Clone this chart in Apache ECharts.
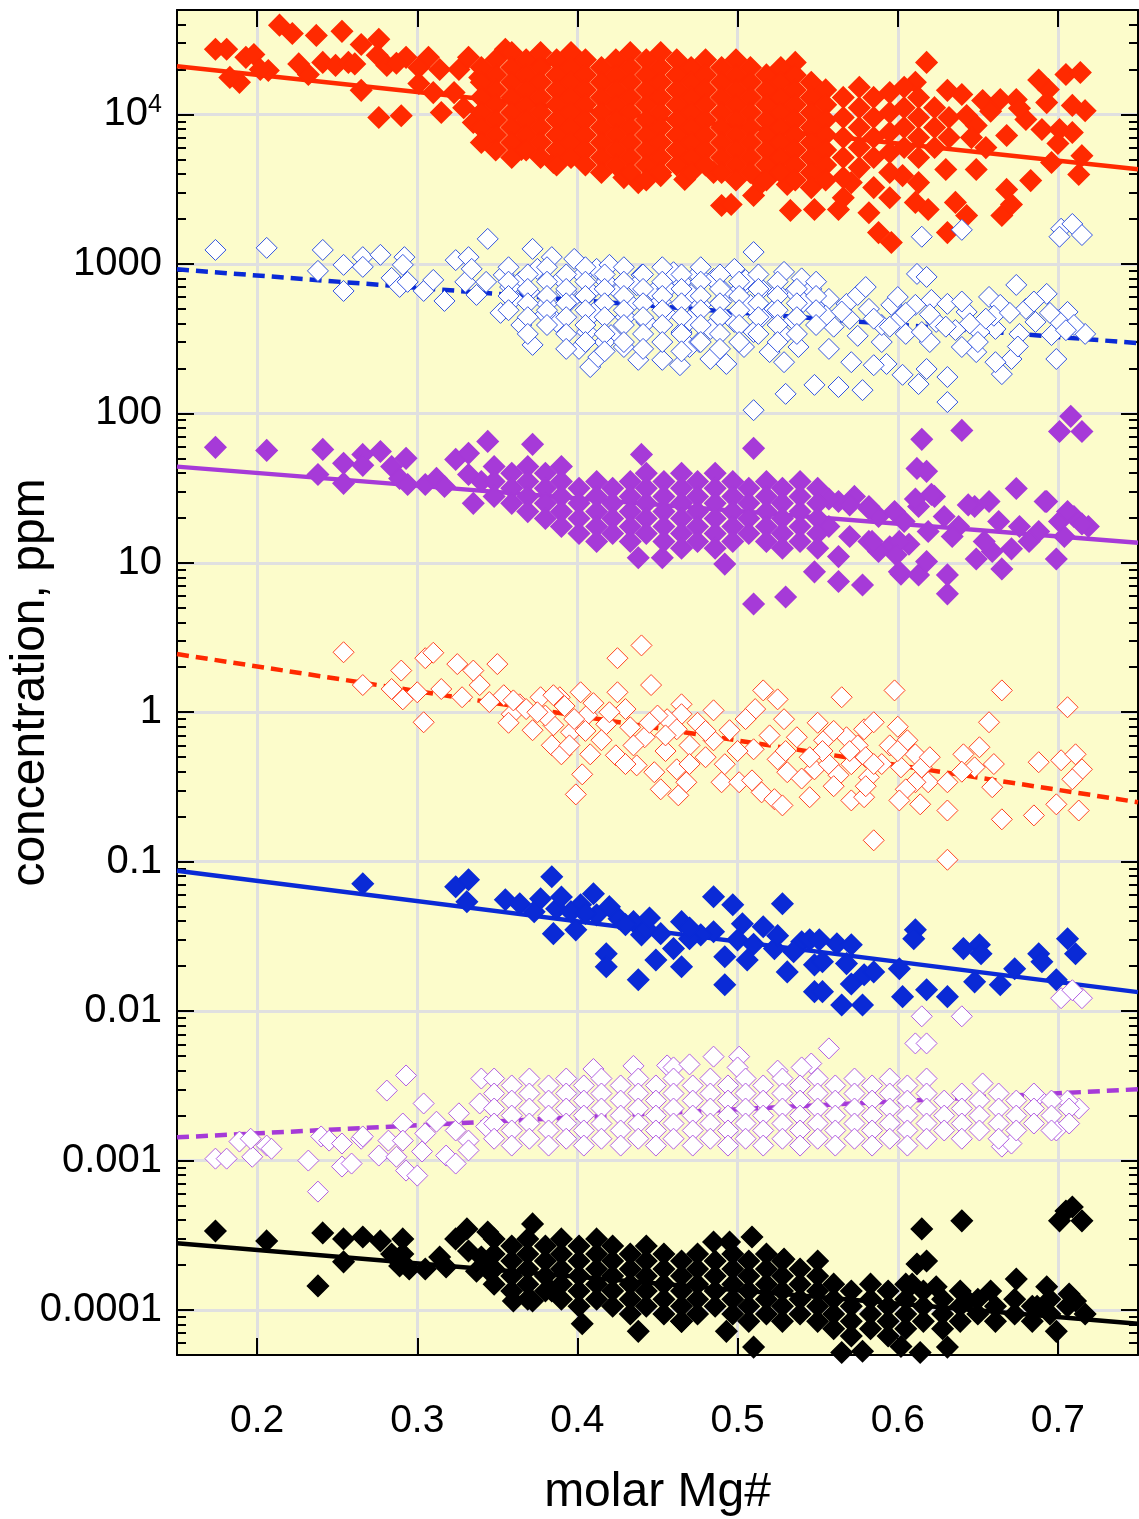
<!DOCTYPE html>
<html>
<head>
<meta charset="utf-8">
<script src="https://cdn.jsdelivr.net/npm/echarts@6/dist/echarts.min.js"></script>
<style>
html,body{margin:0;padding:0;background:#fff;}
#chart{width:1139px;height:1519px;}
</style>
</head>
<body>
<div id="chart"></div>
<script>
// axis ticks
var xTicks = [0.2, 0.3, 0.4, 0.5, 0.6, 0.7];
var yTicks = [1e-4, 1e-3, 1e-2, 1e-1, 1, 10, 100, 1000, 1e4];
var yTickLabels = ['0.0001', '0.001', '0.01', '0.1', '1', '10', '100', '1000', '{n|10}{s|4}'];
var yMinor = [6e-5, 7e-5, 8e-5, 9e-5,
  2e-4, 3e-4, 4e-4, 5e-4, 6e-4, 7e-4, 8e-4, 9e-4,
  2e-3, 3e-3, 4e-3, 5e-3, 6e-3, 7e-3, 8e-3, 9e-3,
  0.02, 0.03, 0.04, 0.05, 0.06, 0.07, 0.08, 0.09,
  0.2, 0.3, 0.4, 0.5, 0.6, 0.7, 0.8, 0.9,
  2, 3, 4, 5, 6, 7, 8, 9,
  20, 30, 40, 50, 60, 70, 80, 90,
  200, 300, 400, 500, 600, 700, 800, 900,
  2000, 3000, 4000, 5000, 6000, 7000, 8000, 9000,
  2e4, 3e4, 4e4];

// fit lines (end points)
var redFit = [[0.15, 21000], [0.75, 4300]];
var blueOpenFit = [[0.15, 920], [0.75, 295]];
var purpleFit = [[0.15, 44], [0.75, 13.6]];
var redOpenFit = [[0.15, 2.45], [0.75, 0.25]];
var blueFit = [[0.15, 0.087], [0.75, 0.0134]];
var purpleOpenFit = [[0.15, 0.00143], [0.75, 0.003]];
var blackFit = [[0.15, 2.8e-4], [0.75, 8.1e-5]];

// red filled diamonds: single points + dense columns [x, [y...]]
var redPts = [[0.174,27300],[0.181,27300],[0.193,24100],[0.198,25200],[0.189,16400],[0.207,19700],[0.214,39600],[0.222,34800],
  [0.237,33800],[0.253,36000],[0.265,29400],[0.276,31800],[0.232,18500],[0.241,22300],[0.249,21300],[0.257,22300],
  [0.265,14500],[0.276,9550],[0.29,9800],[0.281,21300],[0.293,24100],[0.307,24100],[0.315,10300],[0.335,8840],
  [0.183,17700],[0.202,20000],[0.226,21800],[0.261,21800],[0.275,24900],[0.287,22000],[0.301,20600],[0.314,20000],
  [0.326,20000],[0.332,24100],[0.339,17700],[0.323,14000],[0.329,11100],[0.345,13000],[0.301,16100],[0.31,14000],
  [0.355,27300],[0.377,21600],[0.395,24800],[0.536,22300],[0.533,17700],[0.490,2460],[0.496,2500],[0.510,2870],
  [0.533,2280],[0.548,2310],[0.438,3500],[0.429,3780],[0.452,3900],[0.467,3670],[0.485,4090],[0.515,3500],
  [0.531,3400],[0.365,5830],[0.385,4770],
  [0.618,22300],[0.611,16400],[0.631,14500],[0.640,13600],[0.653,12400],[0.664,12600],[0.674,12600],[0.694,14700],
  [0.705,18500],[0.714,19100],[0.717,10600],[0.709,11500],[0.693,12000],[0.680,9260],[0.690,7930],[0.701,7930],
  [0.709,7570],[0.668,7230],[0.649,8440],[0.643,9850],[0.696,4770],[0.713,3970],[0.683,3610],[0.668,3150],
  [0.665,2110],[0.671,2500],[0.649,4280],[0.636,2580],[0.643,2110],[0.631,1620],[0.596,1390],[0.588,1620],
  [0.563,2310],[0.582,2200],[0.571,3500],[0.603,3900],[0.619,2310],[0.611,2580],[0.630,4280],
  [0.688,17000],[0.676,11000],[0.658,10500],[0.646,7000],[0.655,6000],[0.70,6400],[0.715,5300]];
var redCols = [
  [0.340,[20600,16400,13000,10300,8190,6490]],
  [0.349,[23200,18400,14600,11600,9190,7290,5780]],
  [0.359,[26000,20600,16400,13000,10300,8190,6490,5150]],
  [0.368,[23200,18400,14600,11600,9190,7290,5780]],
  [0.377,[26000,20600,16400,13000,10300,8190,6490,5150]],
  [0.387,[23200,18400,14600,11600,9190,7290,5780,4590]],
  [0.396,[26000,20600,16400,13000,10300,8190,6490,5150]],
  [0.405,[23200,18400,14600,11600,9190,7290,5780,4590]],
  [0.415,[20600,16400,13000,10300,8190,6490,5150,4090]],
  [0.424,[23200,18400,14600,11600,9190,7290,5780,4590]],
  [0.433,[26000,20600,16400,13000,10300,8190,6490,5150,4090]],
  [0.443,[23200,18400,14600,11600,9190,7290,5780,4590,3640]],
  [0.452,[26000,20600,16400,13000,10300,8190,6490,5150,4090]],
  [0.462,[23200,18400,14600,11600,9190,7290,5780,4590]],
  [0.471,[20600,16400,13000,10300,8190,6490,5150,4090]],
  [0.480,[23200,18400,14600,11600,9190,7290,5780,4590]],
  [0.490,[20600,16400,13000,10300,8190,6490,5150,4090]],
  [0.499,[23200,18400,14600,11600,9190,7290,5780,4590,3640]],
  [0.508,[20600,16400,13000,10300,8190,6490,5150,4090]],
  [0.518,[18400,14600,11600,9190,7290,5780,4590,3640]],
  [0.527,[20600,16400,13000,10300,8190,6490,5150,4090]],
  [0.536,[18400,14600,11600,9190,7290,5780,4590,3640]],
  [0.546,[16400,13000,10300,8190,6490,5150,4090,3240]],
  [0.555,[14600,11600,9190,7290,5780,4590,3640]],
  [0.566,[13000,9550,7010,5150,3780,2770]],
  [0.576,[15200,11100,8190,6010,4410]],
  [0.585,[13000,9550,7010,5150,3240]],
  [0.595,[14000,10300,7570,5560,4090,2770]],
  [0.604,[15200,11100,8190,6010]],
  [0.613,[13000,9550,7010,5150,3500]],
  [0.623,[11100,8190,6010]],
  [0.632,[9550,7010]]];

// blue open diamonds
var blueOpenPts = [[0.174,1240],[0.206,1280],[0.241,1240],[0.238,898],[0.254,985],[0.254,659],[0.266,1110],[0.266,955],
  [0.277,1150],[0.292,1110],[0.291,985],[0.284,806],[0.289,701],[0.294,758],[0.304,659],[0.310,781],[0.317,565],
  [0.324,1060],[0.332,1110],[0.330,758],[0.334,926],[0.337,620],[0.343,758],[0.344,1470],[0.372,1260],[0.510,1200],
  [0.354,844],[0.364,758],[0.360,583],[0.375,926],[0.384,1110],[0.390,793],[0.393,650],[0.381,540],[0.398,1080],
  [0.403,844],[0.408,650],[0.412,926],[0.420,985],[0.426,650],[0.433,540],[0.440,844],[0.448,650],[0.456,680],
  [0.465,758],[0.471,620],[0.477,532],[0.485,793],[0.492,650],[0.498,926],[0.502,680],[0.508,532],[0.515,680],
  [0.523,500],[0.529,884],[0.535,650],[0.541,556],[0.546,680],[0.365,390],[0.387,409],[0.406,350],[0.421,334],
  [0.443,409],[0.465,350],[0.483,367],[0.498,409],[0.510,350],[0.529,334],[0.372,287],[0.408,204],[0.438,228],
  [0.453,228],[0.483,231],[0.493,214],[0.530,135],[0.510,105],[0.529,220],[0.548,155],[0.401,270],[0.417,300],
  [0.429,278],[0.470,278],[0.476,300],[0.504,278],[0.520,257],[0.538,278],[0.413,238],[0.464,210],
  [0.358,700],[0.370,650],[0.395,560],[0.418,760],[0.437,720],[0.452,560],[0.46,880],[0.475,850],[0.49,560],
  [0.505,780],[0.525,640],[0.54,800],[0.352,470],[0.38,460],[0.41,470],[0.43,440],[0.455,470],[0.47,420],
  [0.49,450],[0.515,440],[0.535,420],[0.55,500],
  [0.615,1520],[0.640,1690],[0.702,1720],[0.709,1850],[0.715,1560],[0.701,1520],[0.612,857],[0.618,818],
  [0.674,723],[0.693,630],[0.657,601],[0.664,532],[0.706,477],[0.557,583],[0.568,540],[0.582,500],[0.596,532],
  [0.611,532],[0.621,574],[0.631,540],[0.643,477],[0.570,428],[0.601,428],[0.624,409],[0.686,409],[0.717,340],
  [0.696,334],[0.676,340],[0.661,367],[0.651,350],[0.636,361],[0.563,150],[0.578,143],[0.603,181],[0.613,157],
  [0.631,175],[0.631,119],[0.618,198],[0.699,231],[0.665,183],[0.671,231],[0.661,220],[0.649,257],[0.640,278],
  [0.593,214],[0.585,210],[0.571,220],[0.557,270],[0.56,380],[0.575,330],[0.59,300],[0.59,390],[0.605,340],
  [0.62,300],[0.645,400],[0.66,450],[0.68,500],[0.70,420],[0.71,390],[0.555,450],
  [0.565,480],[0.575,620],[0.585,430],[0.595,380],[0.605,470],[0.62,460],[0.63,380],[0.64,560],[0.655,430],
  [0.67,470],[0.685,560],[0.695,470],[0.705,360],[0.58,700],[0.6,600],[0.615,350],[0.65,300],[0.675,280]];
var blueOpenCols = [
  [0.357,[950,760,610,490]],
  [0.369,[850,680,545,440,340]],
  [0.381,[950,760,610,490,390]],
  [0.393,[850,680,545,440,340,270]],
  [0.405,[950,760,610,490,390,300]],
  [0.417,[850,680,545,440,340,260]],
  [0.429,[950,760,610,490,390,300]],
  [0.441,[850,680,545,440,340,270]],
  [0.453,[950,760,610,490,390,300]],
  [0.465,[850,680,545,440,340,260]],
  [0.477,[950,760,610,490,390,300]],
  [0.489,[850,680,545,440,340,270]],
  [0.501,[760,610,490,390,300]],
  [0.513,[850,680,545,440,340]],
  [0.525,[760,610,490,390,300]],
  [0.537,[680,545,440,340]],
  [0.549,[760,610,490,390]]];

// purple filled diamonds
var purplePts = [[0.174,59.2],[0.206,56.5],[0.241,57.4],[0.238,39.0],[0.254,46.3],[0.254,34.0],[0.266,53.1],[0.266,44.9],
  [0.277,55.6],[0.284,44.1],[0.293,50.0],[0.289,36.7],[0.294,33.4],[0.305,33.4],[0.312,36.7],[0.317,32.4],
  [0.324,49.2],[0.332,54.0],[0.332,39.0],[0.335,25.0],[0.344,64.9],[0.340,35.0],
  [0.372,62],[0.440,53.1],[0.510,58.3],[0.510,5.3],[0.530,5.9],[0.438,10.8],[0.453,10.8],[0.492,9.8],[0.548,8.7],
  [0.615,67.0],[0.640,76.9],[0.708,95.5],[0.701,75.6],[0.715,75.6],[0.612,42.8],[0.618,40.9],[0.674,31.4],
  [0.693,25.7],[0.631,6.2],[0.631,8.3],[0.563,7.5],[0.578,7.1],[0.602,8.4],[0.613,8.3],[0.618,10.2],[0.649,10.6],
  [0.665,9.1],[0.699,10.6],[0.671,12.4],[0.659,11.9],
  [0.563,25.7],[0.573,27.8],[0.582,23.8],[0.588,20.4],[0.598,22.0],[0.604,18.9],[0.613,23.8],[0.623,27.8],
  [0.629,20.4],[0.638,17.5],[0.648,23.8],[0.657,25.7],[0.663,18.9],[0.676,17.5],[0.688,16.2],[0.701,18.9],
  [0.710,20.4],[0.719,17.5],[0.557,17.5],[0.570,15.0],[0.582,13.9],[0.595,12.8],[0.607,13.3],[0.619,16.2],
  [0.634,15.0],[0.654,13.9],[0.682,13.9],[0.704,15.0],[0.563,11.0],[0.588,11.9],[0.601,13.9],[0.557,26.7],
  [0.570,24.4],[0.582,23.0],[0.611,26.7],[0.621,28.7],[0.644,24.4],[0.692,25.7],[0.706,22.0],[0.715,18.2],
  [0.584,13.9],[0.599,11.3],[0.601,8.7]];
var purpleCols = [
  [0.348,[44.1,35.0,27.8]],
  [0.359,[39.7,31.5,25.0]],
  [0.369,[44.1,35.0,27.8,22.0]],
  [0.380,[39.7,31.5,25.0,19.8]],
  [0.390,[44.1,35.0,27.8,22.0,17.5]],
  [0.401,[31.5,25.0,19.8,15.7]],
  [0.412,[35.0,27.8,22.0,17.5,13.9]],
  [0.422,[31.5,25.0,19.8,15.7]],
  [0.433,[35.0,27.8,22.0,17.5,13.9]],
  [0.443,[39.7,31.5,25.0,19.8,15.7]],
  [0.454,[35.0,27.8,22.0,17.5,13.9]],
  [0.465,[39.7,31.5,25.0,19.8,15.7,12.5]],
  [0.475,[35.0,27.8,22.0,17.5,13.9]],
  [0.486,[39.7,31.5,25.0,19.8,15.7,12.5]],
  [0.497,[35.0,27.8,22.0,17.5,13.9]],
  [0.507,[31.5,25.0,19.8,15.7]],
  [0.518,[35.0,27.8,22.0,17.5,13.9]],
  [0.528,[31.5,25.0,19.8,15.7,12.5]],
  [0.539,[35.0,27.8,22.0,17.5,13.9]],
  [0.550,[31.5,25.0,19.8,15.7,12.5]]];

// red open diamonds
var redOpenPts = [[0.254,2.52],[0.266,1.52],[0.284,1.43],[0.291,1.22],[0.300,1.36],[0.304,0.857],[0.315,1.43],[0.328,1.26],
  [0.339,1.52],[0.345,1.17],[0.305,2.3],[0.31,2.5],[0.325,2.1],[0.335,1.9],[0.35,2.1],[0.29,1.9],[0.425,2.3],[0.44,2.8],
  [0.354,1.30],[0.364,1.13],[0.359,0.97],[0.372,0.758],[0.377,1.26],[0.384,0.601],[0.390,0.523],[0.385,0.818],
  [0.396,0.735],[0.389,1.26],[0.402,1.36],[0.406,0.955],[0.403,0.384],[0.399,0.282],[0.408,0.523],[0.418,0.831],
  [0.425,1.36],[0.424,0.515],[0.433,0.793],[0.437,0.441],[0.442,0.68],[0.448,0.397],[0.452,0.305],[0.462,0.415],
  [0.463,0.278],[0.468,0.340],[0.465,1.13],[0.465,0.97],[0.456,0.898],[0.462,0.769],[0.485,1.03],[0.495,0.758],
  [0.485,0.649],[0.492,0.449],[0.490,0.340],[0.501,0.340],[0.510,0.565],[0.509,0.350],[0.515,0.291],[0.523,0.262],
  [0.528,0.238],[0.511,1.05],[0.516,1.40],[0.525,1.22],[0.529,0.898],[0.525,0.484],[0.531,0.397],[0.537,0.68],
  [0.545,0.270],[0.548,0.415],[0.446,1.52],
  [0.357,0.85],[0.368,1.05],[0.38,0.95],[0.392,1.1],[0.398,0.9],[0.41,1.15],[0.415,0.65],[0.43,1.05],[0.435,0.6],
  [0.45,0.95],[0.455,0.55],[0.47,0.6],[0.475,0.85],[0.48,0.5],
  [0.36,1.2],[0.375,1.0],[0.385,1.3],[0.395,0.6],[0.405,0.75],[0.42,1.0],[0.43,0.45],[0.445,0.85],[0.455,0.7],
  [0.47,0.45],[0.48,0.75],[0.5,0.55],[0.505,0.9],[0.52,0.7],[0.53,0.55],[0.54,0.36],
  [0.565,1.26],[0.598,1.40],[0.665,1.40],[0.706,1.08],[0.568,0.68],[0.579,0.769],[0.585,0.857],[0.557,0.449],
  [0.571,0.449],[0.563,0.379],[0.582,0.367],[0.571,0.257],[0.579,0.270],[0.585,0.139],[0.606,0.649],[0.611,0.523],
  [0.602,0.428],[0.615,0.428],[0.619,0.340],[0.611,0.340],[0.605,0.305],[0.601,0.257],[0.614,0.242],[0.631,0.340],
  [0.631,0.22],[0.631,0.103],[0.641,0.523],[0.651,0.583],[0.648,0.428],[0.657,0.857],[0.659,0.315],[0.665,0.192],
  [0.685,0.204],[0.688,0.463],[0.702,0.477],[0.711,0.523],[0.715,0.415],[0.709,0.356],[0.699,0.242],[0.713,0.22],
  [0.554,0.649],[0.553,0.55],[0.56,0.75],[0.575,0.6],[0.58,0.5],[0.59,0.45],[0.595,0.6],[0.56,0.32],[0.545,0.5],[0.55,0.85],
  [0.57,0.55],[0.585,0.45],[0.6,0.55],[0.62,0.5],[0.64,0.4],[0.66,0.45],[0.58,0.32],[0.6,0.8]];

// blue filled diamonds
var bluePts = [[0.266,0.0712],[0.324,0.068],[0.332,0.0757],[0.331,0.054],
  [0.384,0.0793],[0.355,0.0556],[0.364,0.0523],[0.377,0.0565],[0.387,0.0484],[0.402,0.0515],[0.410,0.061],
  [0.385,0.033],[0.399,0.035],[0.412,0.0441],[0.418,0.0242],[0.418,0.0198],[0.426,0.0415],[0.435,0.0397],
  [0.440,0.0324],[0.449,0.022],[0.438,0.0162],[0.452,0.033],[0.465,0.0397],[0.465,0.0198],[0.460,0.0262],
  [0.485,0.0583],[0.497,0.0515],[0.485,0.034],[0.492,0.0231],[0.492,0.015],[0.503,0.0384],[0.506,0.022],
  [0.516,0.0367],[0.528,0.0523],[0.523,0.0262],[0.531,0.0183],[0.540,0.0291],[0.548,0.0204],[0.548,0.0135],
  [0.477,0.0324],[0.470,0.0305],[0.430,0.0379],[0.443,0.0356],[0.373,0.0463],[0.396,0.0463],
  [0.39,0.058],[0.405,0.045],[0.42,0.05],[0.445,0.042],[0.47,0.036],[0.5,0.03],[0.51,0.028],[0.525,0.032],
  [0.535,0.025],[0.545,0.03],
  [0.551,0.030],[0.562,0.0282],[0.571,0.0278],[0.568,0.0208],[0.553,0.0214],[0.553,0.0135],[0.571,0.0152],
  [0.579,0.0175],[0.585,0.0183],[0.565,0.011],[0.578,0.011],[0.601,0.0192],[0.603,0.0125],[0.618,0.0139],
  [0.631,0.0125],[0.611,0.035],[0.610,0.0305],[0.641,0.0262],[0.651,0.0278],[0.652,0.0242],[0.648,0.0157],
  [0.664,0.015],[0.673,0.0192],[0.688,0.0242],[0.690,0.0214],[0.706,0.0305],[0.711,0.0242],[0.699,0.0162]];

// purple open diamonds
var purpleOpenPts = [[0.174,0.00103],[0.181,0.00103],[0.189,0.00134],[0.197,0.00106],[0.196,0.0014],[0.206,0.00126],
  [0.209,0.0012],[0.232,0.001],[0.238,0.00062],[0.240,0.00145],[0.245,0.00136],[0.253,0.0013],[0.253,0.000912],
  [0.259,0.000955],[0.265,0.0014],[0.266,0.00145],[0.276,0.00108],[0.281,0.00294],[0.293,0.00371],[0.282,0.00136],
  [0.291,0.00177],[0.291,0.00136],[0.287,0.00106],[0.293,0.000857],[0.300,0.000793],[0.304,0.00241],[0.305,0.00152],
  [0.303,0.00115],[0.312,0.00182],[0.318,0.00108],[0.324,0.00159],[0.326,0.00207],[0.332,0.00136],[0.340,0.00354],
  [0.339,0.00241],[0.343,0.00169],[0.324,0.000955],[0.332,0.00117],
  [0.485,0.00496],[0.501,0.00496],[0.456,0.00433],[0.546,0.00446],[0.557,0.00563],[0.611,0.00608],[0.618,0.00608],
  [0.665,0.00124],[0.671,0.0013],[0.699,0.00159],[0.653,0.00328],[0.713,0.00223],[0.706,0.00252],[0.687,0.00268],
  [0.702,0.0122],[0.715,0.0122],[0.709,0.0138],[0.615,0.00923],[0.640,0.00923],
  [0.41,0.0041],[0.435,0.0043],[0.46,0.0042],[0.47,0.0044],[0.5,0.0042],[0.525,0.004],[0.54,0.0042]];
var purpleOpenCols = [
  [0.348,[0.00354,0.00281,0.00223,0.00177,0.0014]],
  [0.359,[0.00318,0.00252,0.002,0.00159,0.00126]],
  [0.370,[0.00354,0.00281,0.00223,0.00177,0.0014]],
  [0.382,[0.00318,0.00252,0.002,0.00159,0.00126]],
  [0.393,[0.00354,0.00281,0.00223,0.00177,0.0014]],
  [0.404,[0.00318,0.00252,0.002,0.00159,0.00126]],
  [0.415,[0.00354,0.00281,0.00223,0.00177,0.0014]],
  [0.427,[0.00318,0.00252,0.002,0.00159,0.00126]],
  [0.438,[0.00354,0.00281,0.00223,0.00177,0.0014]],
  [0.449,[0.00318,0.00252,0.002,0.00159,0.00126]],
  [0.460,[0.00354,0.00281,0.00223,0.00177,0.0014]],
  [0.472,[0.00318,0.00252,0.002,0.00159,0.00126]],
  [0.483,[0.00354,0.00281,0.00223,0.00177,0.0014]],
  [0.494,[0.00318,0.00252,0.002,0.00159,0.00126]],
  [0.505,[0.00354,0.00281,0.00223,0.00177,0.0014]],
  [0.516,[0.00318,0.00252,0.002,0.00159,0.00126]],
  [0.528,[0.00354,0.00281,0.00223,0.00177,0.0014]],
  [0.539,[0.00318,0.00252,0.002,0.00159,0.00126]],
  [0.550,[0.00354,0.00281,0.00223,0.00177,0.0014]],
  [0.561,[0.00318,0.00252,0.002,0.00159,0.00126]],
  [0.573,[0.00354,0.00281,0.00223,0.00177,0.0014]],
  [0.584,[0.00318,0.00252,0.002,0.00159,0.00126]],
  [0.595,[0.00354,0.00281,0.00223,0.00177,0.0014]],
  [0.606,[0.00318,0.00252,0.002,0.00159,0.00126]],
  [0.618,[0.00354,0.00281,0.00223,0.00177,0.0014]],
  [0.629,[0.00252,0.002,0.00159]],
  [0.640,[0.00281,0.00223,0.00177,0.0014]],
  [0.651,[0.00252,0.002,0.00159]],
  [0.663,[0.00281,0.00223,0.00177,0.0014]],
  [0.674,[0.00252,0.002,0.00159]],
  [0.685,[0.00281,0.00223,0.00177]],
  [0.696,[0.00252,0.002,0.00159]],
  [0.707,[0.00223,0.00177]]];

// black filled diamonds
var blackPts = [[0.174,3.38e-4],[0.206,2.9e-4],[0.241,3.28e-4],[0.238,1.45e-4],[0.254,2.99e-4],[0.254,2.1e-4],
  [0.266,3.08e-4],[0.277,2.9e-4],[0.291,2.99e-4],[0.291,2.37e-4],[0.284,2.37e-4],[0.289,1.97e-4],[0.295,1.88e-4],
  [0.305,1.88e-4],[0.314,2.26e-4],[0.318,1.94e-4],[0.324,2.99e-4],[0.331,3.49e-4],[0.332,2.48e-4],[0.337,1.82e-4],
  [0.344,3.33e-4],[0.340,2.26e-4],[0.345,1.82e-4],
  [0.372,3.77e-4],[0.438,7.2e-5],[0.510,5.65e-5],[0.493,7.2e-5],[0.465,8.4e-5],[0.403,8.1e-5],[0.360,1.15e-4],
  [0.372,1.15e-4],[0.384,1.34e-4],[0.529,2.19e-4],[0.485,2.85e-4],[0.495,2.85e-4],[0.509,3.08e-4],
  [0.615,3.49e-4],[0.640,3.95e-4],[0.705,4.6e-4],[0.709,4.89e-4],[0.715,3.95e-4],[0.701,3.95e-4],[0.612,2.03e-4],
  [0.618,2.13e-4],[0.674,1.61e-4],[0.693,1.43e-4],[0.707,1.28e-4],[0.711,1.15e-4],[0.565,5.2e-5],[0.578,5.3e-5],
  [0.602,5.7e-5],[0.614,5.2e-5],[0.631,5.65e-5],[0.699,7.2e-5],[0.609,1.49e-4],[0.624,1.43e-4],[0.644,1.15e-4],
  [0.658,1.34e-4],[0.687,1.06e-4]];
var blackCols = [
  [0.348,[2.99e-4,2.37e-4,1.88e-4,1.49e-4]],
  [0.359,[2.68e-4,2.13e-4,1.69e-4,1.34e-4]],
  [0.369,[2.99e-4,2.37e-4,1.88e-4,1.49e-4,1.18e-4]],
  [0.380,[2.68e-4,2.13e-4,1.69e-4,1.34e-4]],
  [0.390,[2.99e-4,2.37e-4,1.88e-4,1.49e-4,1.18e-4]],
  [0.401,[2.68e-4,2.13e-4,1.69e-4,1.34e-4,1.06e-4]],
  [0.412,[2.99e-4,2.37e-4,1.88e-4,1.49e-4,1.18e-4]],
  [0.422,[2.68e-4,2.13e-4,1.69e-4,1.34e-4,1.06e-4]],
  [0.433,[2.37e-4,1.88e-4,1.49e-4,1.18e-4,9.4e-5]],
  [0.443,[2.68e-4,2.13e-4,1.69e-4,1.34e-4,1.06e-4]],
  [0.454,[2.37e-4,1.88e-4,1.49e-4,1.18e-4,9.4e-5]],
  [0.465,[2.13e-4,1.69e-4,1.34e-4,1.06e-4,8.4e-5]],
  [0.475,[2.37e-4,1.88e-4,1.49e-4,1.18e-4,9.4e-5]],
  [0.486,[2.13e-4,1.69e-4,1.34e-4,1.06e-4]],
  [0.497,[2.37e-4,1.88e-4,1.49e-4,1.18e-4,9.4e-5]],
  [0.507,[2.13e-4,1.69e-4,1.34e-4,1.06e-4,8.4e-5]],
  [0.518,[2.37e-4,1.88e-4,1.49e-4,1.18e-4,9.4e-5]],
  [0.528,[2.13e-4,1.69e-4,1.34e-4,1.06e-4,8.4e-5]],
  [0.539,[1.88e-4,1.49e-4,1.18e-4,9.4e-5]],
  [0.550,[2.13e-4,1.69e-4,1.34e-4,1.06e-4,8.4e-5]],
  [0.560,[1.49e-4,1.18e-4,9.4e-5,7.5e-5]],
  [0.571,[1.34e-4,1.06e-4,8.4e-5,6.7e-5]],
  [0.583,[1.49e-4,1.18e-4,9.4e-5,7.5e-5]],
  [0.594,[1.34e-4,1.06e-4,8.4e-5,6.7e-5]],
  [0.605,[1.49e-4,1.18e-4,9.4e-5,7.5e-5]],
  [0.616,[1.34e-4,1.06e-4,8.4e-5]],
  [0.628,[1.18e-4,9.4e-5,7.5e-5]],
  [0.639,[1.34e-4,1.06e-4,8.4e-5]],
  [0.650,[1.18e-4,9.4e-5]],
  [0.661,[1.06e-4,8.4e-5]],
  [0.673,[1.18e-4,9.4e-5]],
  [0.684,[1.06e-4,8.4e-5]],
  [0.695,[1.18e-4,9.4e-5]],
  [0.706,[1.06e-4]],
  [0.717,[9.4e-5]]];

function fromCols(cols){
    var out = [];
    cols.forEach(function(c){
        c[1].forEach(function(v){ out.push([c[0], v]); });
    });
    return out;
}

var FONT = 'Liberation Sans, Arial, Helvetica, sans-serif';
var X_MIN = 0.15, X_MAX = 0.75, Y_MIN = 5e-5, Y_MAX = 5e4;

function fitLine(data, color, dashed){
    return {
        type: 'line', data: data, symbol: 'none', silent: true, z: 2,
        lineStyle: {color: color, width: 4.5, type: dashed ? [12, 7] : 'solid'},
        animation: false
    };
}
function dots(data, color, open){
    return {
        type: 'scatter', data: data, symbol: 'diamond', symbolSize: 21, silent: true, z: 3,
        itemStyle: open ? {color: '#ffffff', borderColor: color, borderWidth: 1, opacity: 1}
                        : {color: color, borderColor: color, borderWidth: 1.5, opacity: 1},
        animation: false
    };
}

function yLabel(v){
    var e = Math.round(Math.log(v) / Math.LN10);
    return yTickLabels[e + 4];
}

var frame = {lineStyle: {color: '#000', width: 2}};
var majorTick = {inside: true, length: 17, lineStyle: {color: '#000', width: 2}};
var minorTickStyle = {inside: true, length: 9, lineStyle: {color: '#000', width: 2}};

// same rectangle for both grids; no automatic shrinking to fit labels
var plotBox = {left: 177, top: 10, width: 961, height: 1345, containLabel: false, outerBoundsMode: 'none'};

var option = {
    backgroundColor: '#fff',
    animation: false,
    grid: [
        Object.assign({show: true, backgroundColor: '#fcfccb', borderWidth: 0}, plotBox),
        Object.assign({show: false}, plotBox)
    ],
    xAxis: [
        {type: 'value', gridIndex: 0, position: 'bottom', min: X_MIN, max: X_MAX,
         axisLine: frame,
         axisTick: Object.assign({customValues: xTicks}, majorTick),
         axisLabel: {customValues: xTicks, color: '#000', fontSize: 39, fontFamily: FONT, margin: 47,
                     formatter: function(v){ return String(Math.round(v * 10) / 10); }},
         splitLine: {show: true, lineStyle: {color: '#e0e0e0', width: 3}},
         name: 'molar Mg#', nameLocation: 'middle', nameGap: 114, nameMoveOverlap: false,
         nameTextStyle: {color: '#000', fontSize: 48, fontFamily: FONT}},
        {type: 'value', gridIndex: 0, position: 'top', min: X_MIN, max: X_MAX,
         axisLine: frame,
         axisTick: Object.assign({customValues: xTicks}, majorTick),
         axisLabel: {show: false}, splitLine: {show: false}},
        {type: 'value', gridIndex: 1, min: X_MIN, max: X_MAX, show: false}
    ],
    yAxis: [
        {type: 'log', gridIndex: 0, position: 'left', min: Y_MIN, max: Y_MAX, logBase: 10,
         axisLine: frame,
         axisTick: Object.assign({customValues: yTicks}, majorTick),
         axisLabel: {customValues: yTicks, color: '#000', fontSize: 40, fontFamily: FONT, margin: 15,
                     formatter: yLabel,
                     rich: {n: {fontSize: 40, fontFamily: FONT, color: '#000'},
                            s: {fontSize: 25, fontFamily: FONT, color: '#000', verticalAlign: 'top', padding: [0, 0, 18, 0]}}},
         splitLine: {show: true, lineStyle: {color: '#e0e0e0', width: 3}},
         name: 'concentration, ppm', nameLocation: 'middle', nameGap: 122, nameMoveOverlap: false,
         nameTextStyle: {color: '#000', fontSize: 48, fontFamily: FONT}},
        {type: 'log', gridIndex: 0, position: 'right', min: Y_MIN, max: Y_MAX, logBase: 10,
         axisLine: frame,
         axisTick: Object.assign({customValues: yTicks}, majorTick),
         axisLabel: {show: false}, splitLine: {show: false}},
        {type: 'log', gridIndex: 1, position: 'left', min: Y_MIN, max: Y_MAX, logBase: 10,
         axisLine: {show: false},
         axisTick: Object.assign({customValues: yMinor}, minorTickStyle),
         axisLabel: {show: false}, splitLine: {show: false}},
        {type: 'log', gridIndex: 1, position: 'right', min: Y_MIN, max: Y_MAX, logBase: 10,
         axisLine: {show: false},
         axisTick: Object.assign({customValues: yMinor}, minorTickStyle),
         axisLabel: {show: false}, splitLine: {show: false}}
    ],
    series: [
        fitLine(redFit, '#ff2a00', false),
        fitLine(blueOpenFit, '#0a2ad6', true),
        fitLine(purpleFit, '#a63ad8', false),
        fitLine(redOpenFit, '#ff2a00', true),
        fitLine(blueFit, '#0a2ad6', false),
        fitLine(purpleOpenFit, '#a63ad8', true),
        fitLine(blackFit, '#000000', false),
        dots(redPts.concat(fromCols(redCols)), '#ff2a00', false),
        dots(blueOpenPts.concat(fromCols(blueOpenCols)), '#3355e0', true),
        dots(purplePts.concat(fromCols(purpleCols)), '#a63ad8', false),
        dots(redOpenPts, '#ff4422', true),
        dots(bluePts, '#0a2ad6', false),
        dots(purpleOpenPts.concat(fromCols(purpleOpenCols)), '#b25ee2', true),
        dots(blackPts.concat(fromCols(blackCols)), '#000000', false)
    ]
};

var myChart = echarts.init(document.getElementById('chart'));
myChart.setOption(option);
</script>
</body>
</html>
